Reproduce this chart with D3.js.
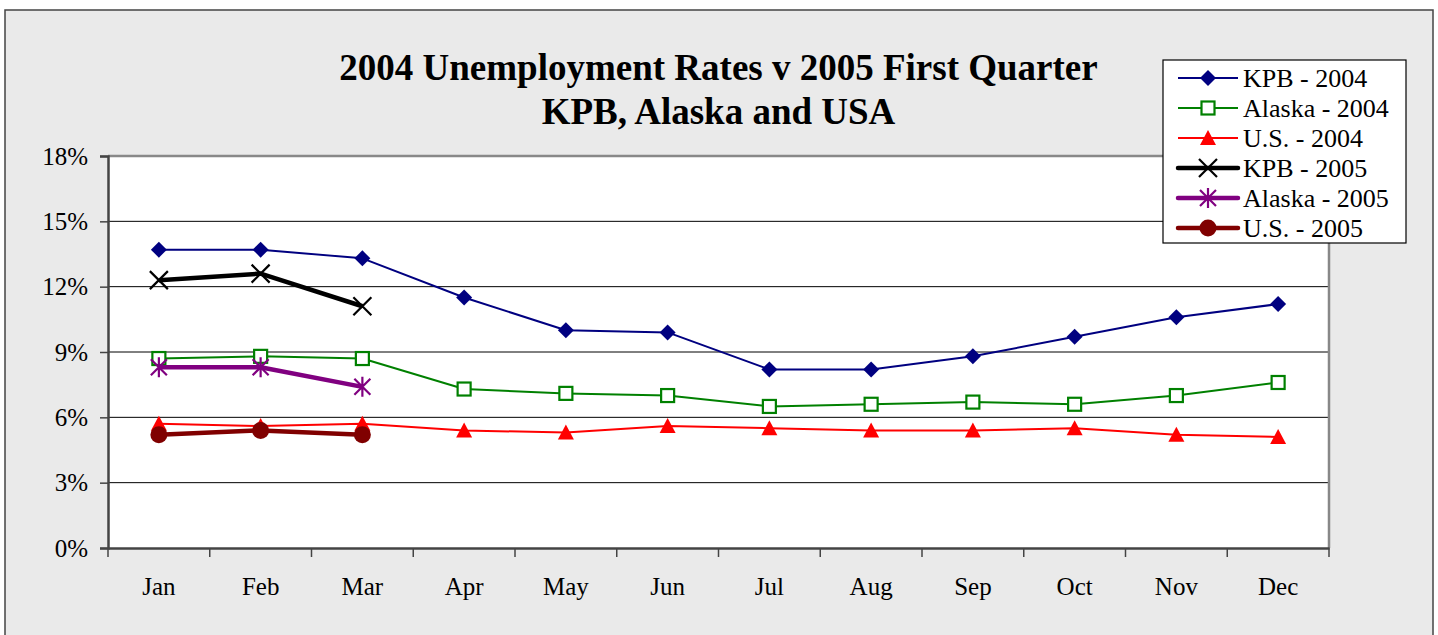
<!DOCTYPE html>
<html>
<head>
<meta charset="utf-8">
<script src="https://cdn.jsdelivr.net/npm/d3@7"></script>
<style>
  body { margin: 0; background: #fff; }
  text { font-family: "Liberation Serif", "Times New Roman", serif; fill: #000; }
</style>
</head>
<body>
<div id="chart"></div>
<script>
var months = ['Jan','Feb','Mar','Apr','May','Jun','Jul','Aug','Sep','Oct','Nov','Dec'];
var y_ticks = [0, 3, 6, 9, 12, 15, 18];

var kpb_2004 = [13.7, 13.7, 13.3, 11.5, 10.0, 9.9, 8.2, 8.2, 8.8, 9.7, 10.6, 11.2];
var alaska_2004 = [8.7, 8.8, 8.7, 7.3, 7.1, 7.0, 6.5, 6.6, 6.7, 6.6, 7.0, 7.6];
var us_2004 = [5.7, 5.6, 5.7, 5.4, 5.3, 5.6, 5.5, 5.4, 5.4, 5.5, 5.2, 5.1];
var kpb_2005 = [12.3, 12.6, 11.1];
var alaska_2005 = [8.3, 8.3, 7.4];
var us_2005 = [5.2, 5.4, 5.2];

var series_names = ['KPB - 2004', 'Alaska - 2004', 'U.S. - 2004', 'KPB - 2005', 'Alaska - 2005', 'U.S. - 2005'];

var W = 1438, H = 635;
var plot = {left: 108, right: 1329, top: 156, bottom: 548};

// styles per series (colour, width of line, marker kind)
var series = [
	{name: series_names[0], values: kpb_2004, colour: '#000080', width: 2, marker: 'diamond'},
	{name: series_names[1], values: alaska_2004, colour: '#008000', width: 2, marker: 'square'},
	{name: series_names[2], values: us_2004, colour: '#ff0000', width: 2, marker: 'triangle'},
	{name: series_names[3], values: kpb_2005, colour: '#000000', width: 4.5, marker: 'x'},
	{name: series_names[4], values: alaska_2005, colour: '#800080', width: 4.5, marker: 'star'},
	{name: series_names[5], values: us_2005, colour: '#800000', width: 4.5, marker: 'circle'}
];

var svg = d3.select('#chart').append('svg')
	.attr('width', W)
	.attr('height', H);

//outer chart area
svg.append('rect')
	.attr('x', 5).attr('y', 10)
	.attr('width', 1428).attr('height', 640)
	.style('fill', '#eaeaea')
	.style('stroke', '#444')
	.style('stroke-width', 1.5);

var x = d3.scaleBand().domain(months).range([plot.left, plot.right]);
var y = d3.scaleLinear().domain([0, 18]).range([plot.bottom, plot.top]);
function cx(i){ return x(months[i]) + x.bandwidth() / 2; }

svg.append('rect')
	.attr('x', plot.left).attr('y', plot.top)
	.attr('width', plot.right - plot.left).attr('height', plot.bottom - plot.top)
	.style('fill', '#fff');

//gridlines
svg.append('g').selectAll('line')
	.data(y_ticks.filter(function(d){ return d > 0 && d < 18; }))
	.enter().append('line')
	.attr('x1', plot.left).attr('x2', plot.right)
	.attr('y1', function(d){ return y(d); }).attr('y2', function(d){ return y(d); })
	.style('stroke', '#000').style('stroke-width', 1);

//plot border top/right (gray)
svg.append('path')
	.attr('d', 'M' + plot.left + ',' + plot.top + 'H' + plot.right + 'V' + plot.bottom)
	.style('fill', 'none').style('stroke', '#888').style('stroke-width', 2.5);

//y axis
var y_axis = svg.append('g')
	.attr('transform', 'translate(' + plot.left + ',0)')
	.call(d3.axisLeft(y).tickValues(y_ticks).tickFormat(function(d){ return d + '%'; }).tickSize(8).tickPadding(12));
y_axis.attr('font-family', null);
y_axis.selectAll('text').style('font-size', '25px').style('font-family', '"Liberation Serif", serif').attr('fill', '#000');

//x axis, ticks on the band edges
var x_axis = svg.append('g')
	.attr('transform', 'translate(0,' + plot.bottom + ')')
	.call(d3.axisBottom(x).tickSize(0).tickPadding(29));
x_axis.attr('font-family', null);
x_axis.selectAll('text').style('font-size', '25px').style('font-family', '"Liberation Serif", serif').attr('fill', '#000');
x_axis.selectAll('.edge')
	.data(months.map(function(m){ return x(m); }).concat([plot.right]))
	.enter().append('line')
	.attr('x1', function(d){ return d; }).attr('x2', function(d){ return d; })
	.attr('y1', 0).attr('y2', 9)
	.style('stroke', '#444').style('stroke-width', 1.5);

svg.selectAll('.domain').style('stroke', '#444').style('stroke-width', 2.5);
svg.selectAll('.tick line').style('stroke', '#444').style('stroke-width', 1.5);

var line = d3.line()
	.x(function(d, i){ return cx(i); })
	.y(function(d){ return y(d); });

function draw_marker(g, kind, colour, px, py){
	if (kind == 'diamond'){
		g.append('path').attr('d', 'M0,-8L8,0L0,8L-8,0Z')
			.attr('transform', 'translate(' + px + ',' + py + ')')
			.style('fill', colour);
	} else if (kind == 'square'){
		g.append('rect').attr('x', px - 6.5).attr('y', py - 6.5).attr('width', 13).attr('height', 13)
			.style('fill', '#fff').style('stroke', colour).style('stroke-width', 2.2);
	} else if (kind == 'triangle'){
		g.append('path').attr('d', 'M0,-8L8,7H-8Z')
			.attr('transform', 'translate(' + px + ',' + py + ')')
			.style('fill', colour);
	} else if (kind == 'x'){
		g.append('path').attr('d', 'M-9,-9L9,9M-9,9L9,-9')
			.attr('transform', 'translate(' + px + ',' + py + ')')
			.style('stroke', colour).style('stroke-width', 2.2);
	} else if (kind == 'star'){
		g.append('path').attr('d', 'M-8,-8L8,8M-8,8L8,-8M0,-10V10')
			.attr('transform', 'translate(' + px + ',' + py + ')')
			.style('stroke', colour).style('stroke-width', 2.2);
	} else {
		g.append('circle').attr('cx', px).attr('cy', py).attr('r', 8.5)
			.style('fill', colour);
	}
}

series.forEach(function(s){
	var g = svg.append('g');
	g.append('path')
		.datum(s.values)
		.attr('d', line)
		.style('fill', 'none')
		.style('stroke', s.colour)
		.style('stroke-width', s.width)
		.style('stroke-linejoin', 'round');
	s.values.forEach(function(v, i){
		draw_marker(g, s.marker, s.colour, cx(i), y(v));
	});
});

//title
var title = svg.append('text')
	.attr('x', (plot.left + plot.right) / 2)
	.attr('text-anchor', 'middle')
	.style('font-size', '37px')
	.style('font-weight', 'bold');
title.append('tspan').attr('x', (plot.left + plot.right) / 2).attr('y', 80).text('2004 Unemployment Rates v 2005 First Quarter');
title.append('tspan').attr('x', (plot.left + plot.right) / 2).attr('y', 124).text('KPB, Alaska and USA');

//legend
var legend = svg.append('g');
legend.append('rect')
	.attr('x', 1163).attr('y', 60).attr('width', 243).attr('height', 183)
	.style('fill', '#fff').style('stroke', '#000').style('stroke-width', 1.2);

series.forEach(function(s, k){
	var ly = 78 + k * 30;
	legend.append('line')
		.attr('x1', 1178).attr('x2', 1238).attr('y1', ly).attr('y2', ly)
		.style('stroke', s.colour).style('stroke-width', s.width)
		.style('stroke-linecap', s.width > 3 ? 'round' : 'butt');
	draw_marker(legend, s.marker, s.colour, 1208, ly);
	legend.append('text')
		.attr('x', 1243).attr('y', ly + 9)
		.style('font-size', '26px')
		.text(s.name);
});
</script>
</body>
</html>
